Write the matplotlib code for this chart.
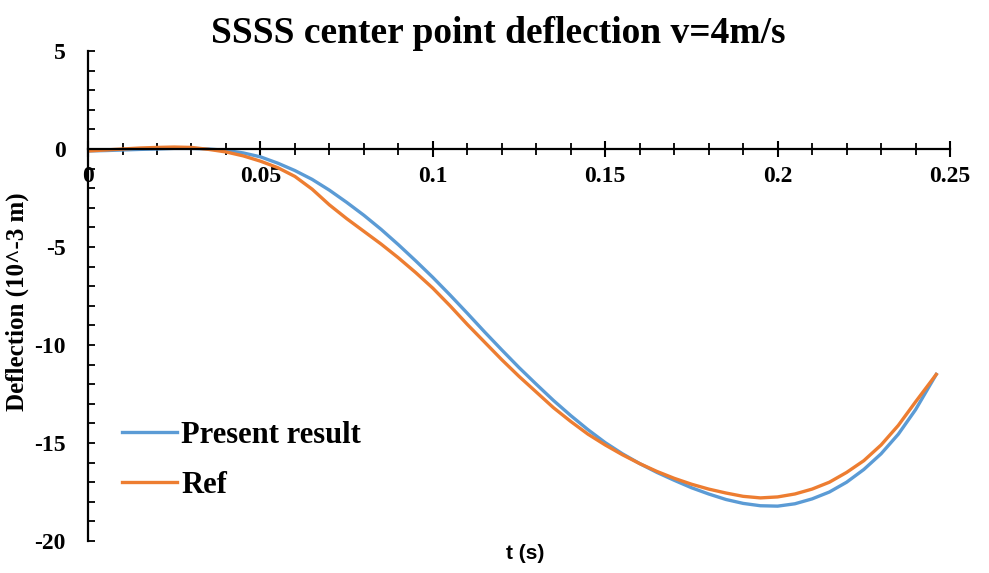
import matplotlib
matplotlib.use("Agg")
import matplotlib.pyplot as plt
from matplotlib.ticker import MultipleLocator

plt.rcParams["axes.unicode_minus"] = False

# Time samples (s) and centre-point deflection (10^-3 m)
t_present = [0.0, 0.005, 0.01, 0.015, 0.02, 0.025, 0.03, 0.035, 0.04, 0.045,
             0.05, 0.055, 0.06, 0.065, 0.07, 0.075, 0.08, 0.085, 0.09, 0.095,
             0.10, 0.105, 0.11, 0.115, 0.12, 0.125, 0.13, 0.135, 0.14, 0.145,
             0.15, 0.155, 0.16, 0.165, 0.17, 0.175, 0.18, 0.185, 0.19, 0.195,
             0.20, 0.205, 0.21, 0.215, 0.22, 0.225, 0.23, 0.235, 0.24, 0.246]
w_present = [-0.1, -0.08, -0.05, -0.02, 0.0, 0.03, 0.03, 0.0, -0.07, -0.2,
             -0.4, -0.72, -1.1, -1.55, -2.1, -2.72, -3.38, -4.1, -4.88, -5.7,
             -6.55, -7.45, -8.38, -9.33, -10.25, -11.15, -12.0, -12.83, -13.6, -14.32,
             -14.98, -15.55, -16.05, -16.5, -16.9, -17.28, -17.6, -17.88, -18.08, -18.2,
             -18.22, -18.1, -17.85, -17.5, -17.0, -16.35, -15.55, -14.55, -13.3, -11.5]

t_ref = [0.0, 0.005, 0.01, 0.015, 0.02, 0.025, 0.03, 0.035, 0.04, 0.045,
         0.05, 0.055, 0.06, 0.065, 0.07, 0.075, 0.08, 0.085, 0.09, 0.095,
         0.10, 0.105, 0.11, 0.115, 0.12, 0.125, 0.13, 0.135, 0.14, 0.145,
         0.15, 0.155, 0.16, 0.165, 0.17, 0.175, 0.18, 0.185, 0.19, 0.195,
         0.20, 0.205, 0.21, 0.215, 0.22, 0.225, 0.23, 0.235, 0.24, 0.246]
w_ref = [-0.1, -0.05, 0.0, 0.05, 0.08, 0.1, 0.08, -0.02, -0.15, -0.35,
         -0.62, -0.95, -1.4, -2.05, -2.85, -3.55, -4.2, -4.85, -5.55, -6.3,
         -7.1, -8.0, -8.95, -9.85, -10.75, -11.6, -12.4, -13.2, -13.9, -14.55,
         -15.1, -15.6, -16.05, -16.45, -16.8, -17.1, -17.35, -17.55, -17.72, -17.8,
         -17.75, -17.6, -17.35, -17.0, -16.5, -15.9, -15.1, -14.1, -12.9, -11.5]

x_ticks = [0, 0.05, 0.1, 0.15, 0.2, 0.25]
x_labels = ["0", "0.05", "0.1", "0.15", "0.2", "0.25"]
y_ticks = [-20, -15, -10, -5, 0, 5]

serif = ["Liberation Serif", "DejaVu Serif"]

fig = plt.figure(figsize=(9.89, 5.73), dpi=100)
ax = fig.add_axes([0.089, 0.0558, 0.8716, 0.8552])

ax.plot(t_present, w_present, color="#5B9BD5", lw=2.4, label="Present result")
ax.plot(t_ref, w_ref, color="#ED7D31", lw=2.4, label="Ref")

ax.set_xlim(0, 0.25)
ax.set_ylim(-20, 5)

ax.spines["top"].set_visible(False)
ax.spines["right"].set_visible(False)
ax.spines["bottom"].set_position(("data", 0))
for s in ("left", "bottom"):
    ax.spines[s].set_linewidth(1.6)

ax.set_xticks(x_ticks)
ax.set_xticklabels(x_labels)
ax.xaxis.set_minor_locator(MultipleLocator(0.01))
ax.set_yticks(y_ticks)
ax.yaxis.set_minor_locator(MultipleLocator(1))

ax.tick_params(axis="x", which="major", direction="inout", length=12, width=1.5, pad=6)
ax.tick_params(axis="x", which="minor", direction="inout", length=9, width=1.3)
ax.tick_params(axis="y", which="both", direction="in", length=5, width=1.3, pad=16)

for lab in ax.get_xticklabels() + ax.get_yticklabels():
    lab.set_fontfamily(serif)
    lab.set_fontweight("bold")
    lab.set_fontsize(17)

ax.set_title("SSSS center point deflection v=4m/s", fontfamily=serif,
             fontweight="bold", fontsize=27, pad=5)
ax.title.set_x(0.476)
ax.set_ylabel("Deflection (10^-3 m)", fontfamily=serif, fontweight="bold",
              fontsize=18)
ax.yaxis.set_label_coords(-0.068, 0.488)
ax.set_xlabel("t (s)", fontfamily=["Liberation Sans", "DejaVu Sans"],
              fontweight="bold", fontsize=15)
ax.xaxis.set_label_coords(0.507, -0.006)

leg = ax.legend(loc="lower left", bbox_to_anchor=(0.007, 0.028), frameon=False,
                handlelength=1.8, handletextpad=0.15, labelspacing=0.68,
                prop={"family": serif, "weight": "bold", "size": 22})

fig.savefig("out.png", dpi=100)
